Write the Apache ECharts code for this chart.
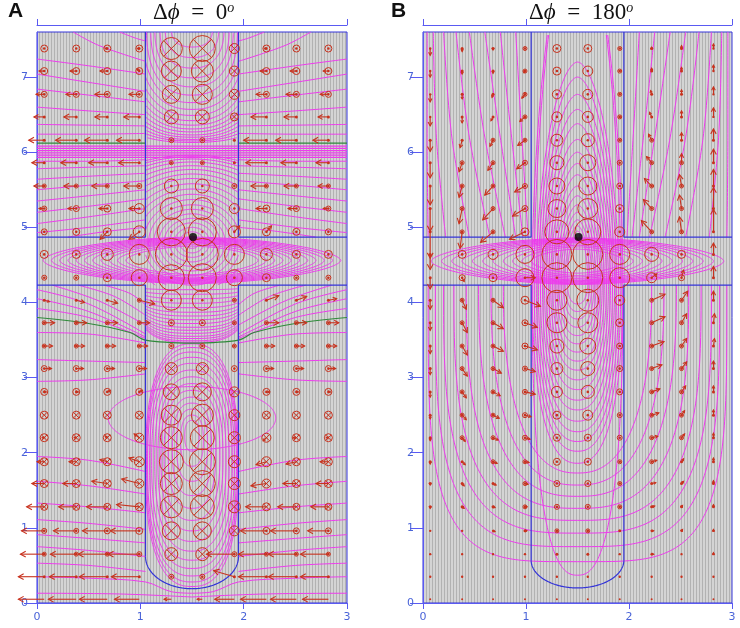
<!DOCTYPE html>
<html>
<head>
<meta charset="utf-8">
<script src="https://cdn.jsdelivr.net/npm/echarts@6/dist/echarts.min.js"></script>
<style>
  html, body { margin: 0; padding: 0; background: #fff; }
  #chart { width: 740px; height: 628px; }
</style>
</head>
<body>
<div id="chart"></div>
<script>
// sample grid (same in both panels)
const cellX = [0.07, 0.38, 0.68, 0.99, 1.3, 1.6, 1.91, 2.22, 2.51, 2.82];
const cellY = [0.05, 0.35, 0.65, 0.96, 1.28, 1.59, 1.88, 2.2, 2.5, 2.81, 3.12, 3.42, 3.73,
  4.03, 4.33, 4.64, 4.94, 5.25, 5.55, 5.86, 6.16, 6.47, 6.77, 7.08, 7.38];
const yTicks = [0, 1, 2, 3, 4, 5, 6, 7];

// field magnitude per cell, bottom row first. >0 out of page, <0 into page
const magA = [
  [0, 0, 0, 0, 0, 0, 0, 0, 0, 0],
  [1.5, 1.5, 1.5, 1.5, 2.5, 2.5, 1.5, 1.5, 1.5, 1.5],
  [2, 2, 2, 2.5, -6.5, -6.5, 2.5, 2, 2, 2],
  [2.5, 2.5, 3, 3.5, -9, -9, -5, 3.5, 3, 3],
  [-3.5, -3.5, -3.5, -4, -11, -12, -6, -4, -3.5, -3.5],
  [-4, -4, -4, -4.5, -11, -13, -6, -4.5, -4, -4],
  [-4, -4, -4, -5, -12, -13, -6, -5, -4, -4],
  [-4, -4, -4, -4.5, -11, -12, -6, -4.5, -4, -4],
  [-4, -4, -4, -4, -10, -11, -5.5, -4, -4, -4],
  [3.5, 3.5, 3.5, 3.5, -8, -9, -5, 3.5, 3.5, 3.5],
  [3, 3, 3, 3, -6, -6, 3, 3, 3, 3],
  [2, 2, 2, 2, 2.5, 2.5, 2, 2, 2, 2],
  [2, 2, 2, 2, 3, 3, 2, 2, 2, 2],
  [1.5, 1.5, 1.5, 2, 10, 10, 2, 1.5, 1.5, 1.5],
  [2.5, 2.5, 4, 8, 13, 14, 8, 4, 2.5, 2.5],
  [4, 4, 6, 10, 16, 16, 10, 6, 4, 4],
  [3, 3.5, 4, 6, 14, 14, 6, 4, 3.5, 3],
  [2.5, 3, 3.5, 5, 11, 11, 5, 3.5, 3, 2.5],
  [2, 2, 2, 2.5, 7, 7, 2.5, 2, 2, 2],
  [1.5, 1.5, 1.5, 1.5, 2, 2, 1.5, 1.5, 1.5, 1.5],
  [1.5, 1.5, 1.5, 1.5, 2.5, 2.5, 1.5, 1.5, 1.5, 1.5],
  [1.5, 1.5, 1.5, 1.5, -7, -7, -4, 1.5, 1.5, 1.5],
  [3, 3, 3, 3, -9, -10, -5, 3, 3, 3],
  [3.5, 3.5, 3.5, 3.5, -10, -11, -5, 3.5, 3.5, 3.5],
  [3.5, 3.5, 3.5, 3.5, -11, -13, -5, 3.5, 3.5, 3.5]
];
const magB = [
  [1, 1, 1, 1, 1, 1, 1, 1, 1, 1],
  [1.2, 1.2, 1.2, 1.2, 1.2, 1.2, 1.2, 1.2, 1.2, 1.2],
  [1.2, 1.2, 1.2, 1.2, 1.5, 1.5, 1.2, 1.2, 1.2, 1.2],
  [1.2, 1.2, 1.2, 1.5, 2, 2, 1.5, 1.2, 1.2, 1.2],
  [1.5, 1.5, 1.5, 2, 2.5, 2.5, 2, 1.5, 1.5, 1.5],
  [1.5, 1.5, 1.5, 2, 3, 3, 2, 1.5, 1.5, 1.5],
  [1.5, 1.5, 2, 2, 3.5, 3.5, 2, 2, 1.5, 1.5],
  [1.5, 2, 2, 2.5, 3.5, 3.5, 2.5, 2, 2, 1.5],
  [1.5, 2, 2, 2.5, 4, 5, 2.5, 2, 2, 1.5],
  [1.5, 2, 2, 2.5, 5.5, 6.5, 3, 2, 2, 1.5],
  [1.5, 2, 2, 2.5, 6, 7, 3, 2, 2, 1.5],
  [1.5, 2, 2, 3, 7, 8, 3, 2, 2, 1.5],
  [1.5, 2, 2, 3, 10, 10, 4, 2, 2, 1.5],
  [1.5, 2, 2, 4, 10, 11, 5, 2, 2, 1.5],
  [1.5, 3, 4, 9, 15, 15, 10, 5, 3, 1.5],
  [1.5, 4, 5, 9, 15, 15, 10, 7, 4, 1.5],
  [1.5, 2, 2, 4, 12, 13, 5, 2, 2, 1.5],
  [1.5, 2, 2, 3, 9, 10, 4, 2, 2, 1.5],
  [1.5, 2, 2, 2.5, 8, 9, 3, 2, 2, 1.5],
  [1.5, 2, 2, 2.5, 7, 8, 2.5, 2, 2, 1.5],
  [1.5, 1.5, 2, 2, 6, 6.5, 2, 2, 1.5, 1.5],
  [1.2, 1.5, 1.5, 2, 5, 5.5, 2, 1.5, 1.5, 1.2],
  [1.2, 1.5, 1.5, 2, 4.5, 5, 2, 1.5, 1.5, 1.2],
  [1.2, 1.5, 1.5, 2, 4, 5, 2, 1.5, 1.5, 1.2],
  [1.2, 1.5, 1.5, 2, 4, 4, 2, 1.5, 1.5, 1.2]
];

// in-plane vectors per cell (x and y parts), bottom row first
const dxA = [
  [-0.25, -0.27, -0.27, -0.24, -0.07, -0.05, -0.19, -0.25, -0.25, -0.25],
  [-0.25, -0.26, -0.27, -0.27, 0, 0, -0.2, -0.27, -0.27, -0.27],
  [-0.23, -0.25, -0.28, -0.3, 0, 0, -0.27, -0.27, -0.27, -0.27],
  [-0.22, -0.22, -0.24, -0.28, 0, 0, 0, -0.25, -0.25, -0.2],
  [-0.17, -0.17, -0.2, -0.22, 0, 0, 0, -0.2, -0.18, -0.17],
  [-0.12, -0.13, -0.15, -0.17, 0, 0, 0, -0.15, -0.13, -0.12],
  [-0.07, -0.07, -0.07, -0.1, 0, 0, 0, -0.1, -0.1, -0.08],
  [-0.02, -0.02, -0.02, -0.05, 0, 0, 0, -0.03, -0.03, -0.02],
  [0, 0, 0, 0, 0, 0, 0, 0, 0, 0],
  [0.02, 0.02, 0.03, 0.03, 0, 0, 0, 0.03, 0.02, 0.02],
  [0.07, 0.07, 0.07, 0.07, 0, 0, 0, 0.07, 0.07, 0.07],
  [0.08, 0.08, 0.08, 0.08, 0, 0, 0, 0.08, 0.08, 0.08],
  [0.1, 0.1, 0.1, 0.1, 0, 0, 0, 0.12, 0.1, 0.1],
  [0.05, 0.08, 0.1, 0.15, 0, 0, 0, 0.12, 0.1, 0.08],
  [0, 0, 0, 0, 0, 0, 0, 0, 0, 0],
  [0, 0, 0, 0, 0, 0, 0, 0, 0, 0],
  [0, 0, -0.07, -0.1, 0, 0, 0.05, 0.05, 0, 0],
  [-0.05, -0.08, -0.08, -0.1, 0, 0, 0, -0.1, -0.08, -0.05],
  [-0.1, -0.12, -0.15, -0.15, 0, 0, 0, -0.15, -0.12, -0.1],
  [-0.12, -0.15, -0.18, -0.2, 0, 0, 0, -0.2, -0.15, -0.12],
  [-0.15, -0.2, -0.22, -0.22, 0, 0, 0, -0.22, -0.2, -0.15],
  [-0.1, -0.12, -0.12, -0.15, 0, 0, 0, -0.15, -0.12, -0.1],
  [-0.08, -0.1, -0.12, -0.1, 0, 0, 0, -0.1, -0.1, -0.08],
  [-0.05, -0.06, -0.07, -0.02, 0, 0, 0, -0.06, -0.06, -0.05],
  [0, 0, -0.02, -0.02, 0, 0, 0, -0.02, 0, 0]
];
const dyA = [
  [0, 0, 0, 0, 0, 0, 0, 0, 0, 0],
  [0, 0, 0, 0, 0, 0, 0.08, 0, 0, 0],
  [0, 0, 0, 0, 0, 0, 0, 0, 0, 0],
  [0, 0, 0, 0, 0, 0, 0, 0, 0, 0],
  [0, 0, 0, 0.03, 0, 0, 0, 0, 0, 0],
  [0, 0, 0.03, 0.06, 0, 0, 0, -0.03, 0, 0],
  [0, 0, 0.03, 0.05, 0, 0, 0, -0.04, -0.03, 0],
  [0, 0, 0.02, 0.05, 0, 0, 0, -0.04, 0, 0],
  [0, 0, 0, 0, 0, 0, 0, 0, 0, 0],
  [0, 0, 0.02, 0.02, 0, 0, 0, 0, 0, 0],
  [0, 0, 0, 0, 0, 0, 0, 0, 0, 0],
  [0, 0, 0, 0, 0, 0, 0, 0, 0, 0],
  [0, 0, 0, 0, 0, 0, 0, 0, 0, 0],
  [-0.02, -0.03, -0.04, -0.05, 0, 0, 0, 0.06, 0.05, 0.02],
  [0, 0, 0, 0, 0, 0, 0, 0, 0, 0],
  [0, 0, 0, 0, 0, 0, 0, 0, 0, 0],
  [0, 0, -0.1, -0.1, 0, 0, 0.08, 0.08, 0, 0],
  [0, 0, 0, 0, 0, 0, 0, 0, 0, 0],
  [0, 0, 0, 0, 0, 0, 0, 0, 0, 0],
  [0, 0, 0, 0, 0, 0, 0, 0, 0, 0],
  [0, 0, 0, 0, 0, 0, 0, 0, 0, 0],
  [0, 0, 0, 0, 0, 0, 0, 0, 0, 0],
  [0, 0, 0, 0, 0, 0, 0, 0, 0, 0],
  [0, 0, 0, 0.03, 0, 0, 0, 0, 0, 0],
  [0, 0, 0, 0, 0, 0, 0, 0, 0, 0]
];
const dxB = [
  [0, 0.01, 0.01, 0.01, 0, 0, 0, 0.01, 0.01, 0],
  [0, 0.01, 0.01, 0.01, 0, 0, 0, 0.01, 0.01, 0],
  [0, 0.01, 0.01, 0.01, 0, 0, 0, 0.02, 0.01, 0],
  [0, 0.01, 0.02, 0.02, 0, 0, 0, 0.02, 0.01, 0],
  [0, 0.02, 0.02, 0.02, 0, 0, 0, 0.03, 0.01, 0],
  [0, 0.02, 0.03, 0.03, 0, 0, 0, 0.04, 0.02, 0],
  [0, 0.03, 0.04, 0.04, 0, 0, 0, 0.05, 0.02, 0],
  [0, 0.03, 0.05, 0.05, 0, 0, 0, 0.06, 0.03, 0],
  [0, 0.04, 0.06, 0.06, 0, 0, 0, 0.07, 0.03, 0],
  [0, 0.04, 0.07, 0.1, 0, 0, 0, 0.08, 0.04, 0],
  [0, 0.05, 0.08, 0.1, 0, 0, 0, 0.1, 0.05, 0],
  [0, 0.05, 0.1, 0.12, 0, 0, 0, 0.12, 0.05, 0.01],
  [0, 0.05, 0.1, 0.12, 0, 0, 0, 0.13, 0.05, 0.01],
  [0, 0.04, 0.1, 0.15, 0, 0, 0, 0.13, 0.06, 0],
  [0, 0.02, 0, 0.1, 0, 0, 0, 0.05, 0.02, 0],
  [0, 0, 0, 0, 0, 0, 0, 0, 0, 0],
  [0, -0.02, -0.12, -0.15, 0, 0, 0, -0.1, -0.02, 0],
  [0, -0.03, -0.1, -0.12, 0, 0, 0, -0.08, -0.02, 0],
  [0, -0.03, -0.08, -0.1, 0, 0, 0, -0.07, -0.02, 0],
  [0, -0.03, -0.05, -0.08, 0, 0, 0, -0.05, 0, 0],
  [0, -0.02, -0.03, -0.07, 0, 0, 0, -0.03, 0, 0],
  [0, 0, -0.02, -0.05, 0, 0, 0, -0.02, 0, 0],
  [0, 0, -0.01, -0.03, 0, 0, 0, -0.01, 0, 0],
  [0, 0, 0, -0.01, 0, 0, 0, 0, 0, 0],
  [0, 0, 0, 0, 0, 0, 0, 0, 0, 0]
];
const dyB = [
  [-0.01, -0.01, 0, 0, 0, 0, 0, 0, 0.01, 0.01],
  [-0.01, -0.01, 0, 0, 0, 0, 0, 0, 0.01, 0.01],
  [-0.01, -0.01, -0.01, 0, 0, 0, 0, 0, 0.01, 0.02],
  [-0.01, -0.01, -0.01, 0, 0, 0, 0, 0, 0.02, 0.02],
  [-0.02, -0.02, -0.01, 0, 0, 0, 0, 0.01, 0.02, 0.03],
  [-0.02, -0.03, -0.02, -0.01, 0, 0, 0, 0.01, 0.03, 0.04],
  [-0.03, -0.04, -0.02, -0.01, 0, 0, 0, 0.02, 0.04, 0.05],
  [-0.04, -0.05, -0.03, -0.02, 0, 0, 0, 0.02, 0.05, 0.06],
  [-0.05, -0.06, -0.04, -0.02, 0, 0, 0, 0.03, 0.06, 0.07],
  [-0.07, -0.08, -0.05, -0.03, 0, 0, 0, 0.04, 0.08, 0.08],
  [-0.08, -0.1, -0.06, -0.04, 0, 0, 0, 0.05, 0.09, 0.1],
  [-0.1, -0.12, -0.07, -0.05, 0, 0, 0, 0.06, 0.1, 0.1],
  [-0.1, -0.13, -0.08, -0.06, 0, 0, 0, 0.08, 0.12, 0.12],
  [-0.12, -0.12, -0.1, -0.08, 0, 0, 0, 0.08, 0.12, 0.12],
  [-0.15, -0.05, 0, 0, 0, 0, 0, 0.05, 0.1, 0.15],
  [-0.2, 0, 0, 0, 0, 0, 0, 0, 0, 0.15],
  [-0.35, -0.22, -0.14, -0.1, 0, 0, 0, 0.15, 0.2, 0.3],
  [-0.3, -0.2, -0.15, -0.1, 0, 0, 0, 0.12, 0.18, 0.28],
  [-0.25, -0.15, -0.12, -0.08, 0, 0, 0, 0.1, 0.15, 0.22],
  [-0.2, -0.12, -0.1, -0.08, 0, 0, 0, 0.08, 0.12, 0.18],
  [-0.15, -0.1, -0.08, -0.07, 0, 0, 0, 0.08, 0.1, 0.15],
  [-0.12, -0.08, -0.05, -0.06, 0, 0, 0, 0.06, 0.08, 0.12],
  [-0.1, -0.06, -0.04, -0.05, 0, 0, 0, 0.05, 0.06, 0.1],
  [-0.08, -0.04, -0.03, -0.02, 0, 0, 0, 0.04, 0.05, 0.08],
  [-0.09, -0.04, -0.02, 0, 0, 0, 0, 0.02, 0.04, 0.06]
];

// structure outline (left half, mirrored about x = 1.5)
const wallA = [[1.05, 7.6], [1.05, 4.87], [0, 4.87]];
const wallA2 = [[0, 4.23], [1.05, 4.23], [1.05, 0.62]];
const wallB = [[1.05, 7.6], [1.05, 4.87], [0, 4.87]];
const wallB2 = [[0, 4.23], [1.05, 4.23], [1.05, 0.57]];
const tipA = [0.62, 0.19];   // [arc start y, arc bottom y]
const tipB = [0.57, 0.2];
const sourcePt = [1.51, 4.87];

// panel A contour families
const capBottomsA = [[7.4, 0.2], [7.26, 0.26], [7.12, 0.31], [6.99, 0.36], [6.87, 0.4], [6.76, 0.44],
  [6.66, 0.48], [6.57, 0.52], [6.49, 0.56], [6.42, 0.6], [6.36, 0.64], [6.31, 0.68], [6.27, 0.73],
  [6.23, 0.78], [6.2, 0.84], [6.17, 0.9], [6.15, 1.0], [6.13, 1.15]];               // [bottom y, half width]
const ringsA = [[0.07, 0.08], [0.12, 0.14], [0.17, 0.2], [0.22, 0.26], [0.27, 0.32], [0.32, 0.38],
  [0.37, 0.44], [0.42, 0.5], [0.47, 0.57], [0.53, 0.64], [0.59, 0.71], [0.65, 0.78], [0.72, 0.85],
  [0.79, 0.91], [0.86, 0.97], [0.94, 1.02], [1.02, 1.07], [1.1, 1.11], [1.2, 1.14], [1.3, 1.16]];
const lensA = [[1.44, 0.31], [1.36, 0.3], [1.28, 0.29], [1.2, 0.28], [1.12, 0.27], [1.04, 0.26],
  [0.96, 0.25], [0.88, 0.24], [0.8, 0.23], [0.72, 0.21], [0.64, 0.19]];            // [half length, half height]
const neckBottomsA = [4.17, 4.11, 4.05, 3.99, 3.93, 3.87, 3.82, 3.77, 3.72, 3.67, 3.63, 3.59, 3.55, 3.52, 3.49, 3.47];
const stemLoopsA = [[3.45, 0.22, 0.45], [3.4, 0.28, 0.44], [3.34, 0.36, 0.43], [3.27, 0.46, 0.41],
  [3.19, 0.57, 0.39], [3.1, 0.69, 0.36], [3.01, 0.82, 0.33], [2.92, 0.96, 0.3], [2.83, 1.1, 0.27],
  [2.74, 1.26, 0.23], [2.66, 1.43, 0.19], [2.58, 1.62, 0.15], [2.5, 1.82, 0.11], [2.43, 2.02, 0.07]]; // [top, bottom, half width]
const lobeA = [2.46, 0.81, 0.42];                                                // [centre y, half width, half height]
const sheetA = [5.93, 5.96, 5.99, 6.02, 6.05, 6.08];
const linesA = [
  [[0.35, 7.6], [0.6, 7.42], [1.05, 7.21]],
  [[0.8, 7.6], [0.95, 7.52], [1.05, 7.48]],
  [[0, 7.24], [0.5, 7.15], [1.05, 7.04]],
  [[0, 7.04], [0.5, 6.93], [1.05, 6.81]],
  [[0, 6.84], [0.5, 6.76], [1.05, 6.67]],
  [[0, 6.6], [0.5, 6.55], [1.05, 6.5]],
  [[0, 6.37], [0.5, 6.36], [1.05, 6.35]],
  [[0, 6.24], [0.5, 6.24], [1.05, 6.25]],
  [[0, 5.88], [0.5, 5.88], [1.05, 5.9]],
  [[0, 5.78], [0.5, 5.8], [1.05, 5.82]],
  [[0, 5.64], [0.5, 5.68], [1.05, 5.72]],
  [[0, 5.5], [0.5, 5.56], [1.05, 5.62]],
  [[0, 5.35], [0.5, 5.42], [1.05, 5.5]],
  [[0, 5.2], [0.5, 5.28], [1.05, 5.38]],
  [[0, 5.05], [0.5, 5.14], [1.05, 5.25]],
  [[0, 4.93], [0.5, 5.0], [1.05, 5.1]],
  [[0.3, 4.87], [0.7, 4.95], [1.05, 5.0]],
  [[0, 4.17], [0.5, 3.98], [1.05, 3.58]],
  [[0.15, 4.23], [0.6, 4.02], [1.05, 3.7]],
  [[0.4, 4.23], [0.75, 4.08], [1.05, 3.83]],
  [[0.65, 4.23], [0.9, 4.12], [1.05, 3.97]],
  [[0, 4.05], [0.5, 3.88], [1.05, 3.54]],
  [[0, 3.92], [0.5, 3.8], [1.05, 3.52]],
  [[0, 3.6], [0.5, 3.58], [1.05, 3.46]],
  [[0, 3.24], [0.5, 3.22], [1.05, 3.2]],
  [[0, 2.95], [0.5, 2.97], [1.05, 3.05]],
  [[0, 1.95], [0.5, 1.9], [1.05, 1.75]],
  [[0, 1.62], [0.5, 1.56], [1.05, 1.45]],
  [[0, 1.33], [0.5, 1.28], [1.05, 1.2]],
  [[0, 1.11], [0.5, 1.06], [1.05, 0.98]],
  [[0, 0.91], [0.5, 0.86], [1.05, 0.8]],
  [[0, 0.75], [0.5, 0.7], [1.05, 0.62]],
  [[0, 0.53], [0.5, 0.5], [1.05, 0.42]],
  [[0, 0.35], [0.5, 0.33], [1.05, 0.28], [1.3, 0.15], [1.5, 0.13]],
  [[0, 0.13], [0.8, 0.12], [1.5, 0.08]]
];
const greenA = [
  [[0, 6.12], [1.05, 6.12]],
  [[0, 3.8], [0.5, 3.72], [0.9, 3.6], [1.05, 3.5], [1.5, 3.46]]
];

// panel B contour families
const lensB = [[1.42, 0.31], [1.32, 0.3], [1.22, 0.29], [1.12, 0.28], [1.02, 0.27], [0.92, 0.26],
  [0.82, 0.25], [0.72, 0.23], [0.63, 0.21], [0.54, 0.19], [0.45, 0.16]];
const bowlsB = [[0.37, 0.44, 2.5], [0.55, 1.45, 4], [0.75, 1.38, 3.5], [0.93, 1.3, 3.2], [1.1, 1.2, 3],
  [1.26, 1.08, 2.8], [1.42, 0.96, 2.6], [1.57, 0.84, 2.5], [1.73, 0.72, 2.4]];     // [bottom y, half width, squareness]
const dropsB = [[1.86, 9, 0.44], [2.02, 9, 0.42], [2.15, 7.2, 0.4], [2.28, 7.0, 0.38], [2.42, 6.77, 0.36],
  [2.57, 6.57, 0.34], [2.7, 6.38, 0.32], [2.84, 6.17, 0.3], [2.97, 6.0, 0.28], [3.1, 5.85, 0.26],
  [3.22, 5.7, 0.24], [3.34, 5.55, 0.22], [3.45, 5.42, 0.2], [3.56, 5.3, 0.18], [3.67, 5.2, 0.16],
  [3.78, 5.1, 0.14], [3.88, 5.02, 0.12], [3.98, 4.95, 0.1]];                      // [bottom, top, half width]
const linesB = [
  [[0.04, 7.6], [0.04, 6.2], [0.05, 4.87]],
  [[0.1, 7.6], [0.13, 6.2], [0.22, 4.87]],
  [[0.2, 7.6], [0.28, 6.2], [0.45, 4.87]],
  [[0.32, 7.6], [0.45, 6.2], [0.65, 4.87]],
  [[0.45, 7.6], [0.6, 6.2], [0.8, 4.87]],
  [[0.6, 7.6], [0.75, 6.2], [0.9, 4.87]],
  [[0.75, 7.6], [0.86, 6.2], [0.97, 4.87]],
  [[0.9, 7.6], [0.96, 6.2], [1.02, 4.87]]
];

const MAG = '#ee3aee';
const RED = '#c8321e';
const BLUE = '#3434d8';
const AXIS = '#5a5af2';

// fine vertical hatching of the model background
function hatch() {
  const c = document.createElement('canvas');
  c.width = 3; c.height = 4;
  const g = c.getContext('2d');
  g.fillStyle = '#d4d4d4'; g.fillRect(0, 0, 3, 4);
  g.fillStyle = '#b2b2b2'; g.fillRect(0, 0, 1, 4);
  return { image: c, repeat: 'repeat' };
}

function mirror(pts) {
  return pts.map(p => [3 - p[0], p[1]]).reverse();
}

// loops: [cx, cy, a, bDown, bUp, nDown, nUp, clip rect]
function buildLoopsA() {
  const L = [];
  const top = [1.05, 1.95, 6.12, 7.6];
  capBottomsA.forEach(c => L.push([1.5, 7.65, c[1], 7.65 - c[0], 0.01, 2.4, 2, top]));
  ringsA.forEach(r => L.push([1.5, 4.8, r[0], r[1], r[1], 2, 2, [1.05, 1.95, 4.23, 6.0]]));
  lensA.forEach(r => L.push([1.5, 4.56, r[0], r[1], r[1], 1.7, 1.7, [0, 3, 4.23, 4.87]]));
  neckBottomsA.forEach(b => L.push([1.5, 4.23, 0.55, 4.23 - b, 0.01, 3, 3, [1.05, 1.95, 3.45, 4.23]]));
  stemLoopsA.forEach(s => {
    const cy = (s[0] + s[1]) / 2;
    L.push([1.5, cy, s[2], cy - s[1], s[0] - cy, 2.5, 2.5, [1.05, 1.95, 0, 3.47]]);
  });
  L.push([1.5, lobeA[0], lobeA[1], lobeA[2], lobeA[2], 2, 2, [0, 3, 0, 3.47]]);
  return L;
}
function buildLoopsB() {
  const L = [];
  lensB.forEach(r => L.push([1.5, 4.55, r[0], r[1], r[1], 1.7, 1.7, [0, 3, 4.23, 4.87]]));
  bowlsB.forEach(b => L.push([1.5, 4.23, b[1], 4.23 - b[0], 0.01, b[2], b[2],
    b[1] < 0.45 ? [1.05, 1.95, 0, 4.23] : [0, 3, 0, 4.23]]));
  dropsB.forEach(d => L.push([1.5, 4.3, d[2], 4.3 - d[0], d[1] - 4.3, 2.4, 1.8, [1.05, 1.95, 0, 7.6]]));
  return L;
}

function loopSeries(gi, loops, color, width) {
  return {
    type: 'custom', xAxisIndex: gi * 2, yAxisIndex: gi, silent: true, z: 2,
    data: loops.map((l, i) => [l[0], l[1], i]),
    renderItem: function (params, api) {
      const l = loops[api.value(2)];
      const [cx, cy, a, bd, bu, nd, nu, r] = l;
      const runs = [];
      let cur = [];
      for (let k = 0; k <= 360; k++) {
        const t = k / 360 * Math.PI * 2;
        const c = Math.cos(t), s = Math.sin(t);
        const n = s < 0 ? nd : nu;
        const x = cx + a * Math.sign(c) * Math.pow(Math.abs(c), 2 / n);
        const y = cy + (s < 0 ? bd : bu) * Math.sign(s) * Math.pow(Math.abs(s), 2 / n);
        if (x >= r[0] - 1e-6 && x <= r[1] + 1e-6 && y >= r[2] - 1e-6 && y <= r[3] + 1e-6) {
          cur.push(api.coord([x, y]));
        } else {
          if (cur.length > 1) runs.push(cur);
          cur = [];
        }
      }
      if (cur.length > 1) runs.push(cur);
      return {
        type: 'group',
        children: runs.map(p => ({
          type: 'polyline', shape: { points: p },
          style: { stroke: color, lineWidth: width, fill: null }
        }))
      };
    }
  };
}

function lineSeries(gi, pts, color, width, z) {
  return {
    type: 'line', xAxisIndex: gi * 2, yAxisIndex: gi, data: pts, smooth: 0.35,
    showSymbol: false, silent: true, z: z || 2, clip: true,
    lineStyle: { color: color, width: width || 1 }
  };
}

function cellSeries(gi, mag, dx, dy) {
  const data = [];
  for (let j = 0; j < cellY.length; j++) {
    for (let i = 0; i < cellX.length; i++) {
      data.push([cellX[i], cellY[j], mag[j][i], dx[j][i], dy[j][i]]);
    }
  }
  return {
    type: 'custom', xAxisIndex: gi * 2, yAxisIndex: gi, silent: true, z: 5,
    data: data,
    renderItem: function (params, api) {
      const x = api.value(0), y = api.value(1), m = api.value(2);
      const vx = api.value(3), vy = api.value(4);
      const p = api.coord([x, y]);
      const kids = [];
      const r = Math.abs(m);
      if (m !== 0) {
        if (r <= 1.6) {
          kids.push({ type: 'circle', shape: { cx: p[0], cy: p[1], r: r }, style: { fill: RED } });
        } else {
          kids.push({ type: 'circle', shape: { cx: p[0], cy: p[1], r: r }, style: { fill: null, stroke: RED, lineWidth: 1 } });
          if (m < 0) {
            const d = r * 0.7;
            kids.push({ type: 'line', shape: { x1: p[0] - d, y1: p[1] - d, x2: p[0] + d, y2: p[1] + d }, style: { stroke: RED, lineWidth: 1 } });
            kids.push({ type: 'line', shape: { x1: p[0] - d, y1: p[1] + d, x2: p[0] + d, y2: p[1] - d }, style: { stroke: RED, lineWidth: 1 } });
          } else {
            kids.push({ type: 'circle', shape: { cx: p[0], cy: p[1], r: 1.3 }, style: { fill: RED } });
          }
        }
      }
      if (vx !== 0 || vy !== 0) {
        const q = api.coord([x + vx, y + vy]);
        const ddx = q[0] - p[0], ddy = q[1] - p[1];
        const len = Math.sqrt(ddx * ddx + ddy * ddy);
        if (len > 1.5) {
          kids.push({ type: 'line', shape: { x1: p[0], y1: p[1], x2: q[0], y2: q[1] }, style: { stroke: RED, lineWidth: 1.1 } });
          const h = Math.min(6, Math.max(2.5, len * 0.5));
          const ang = Math.atan2(ddy, ddx);
          const a1 = ang + Math.PI - 0.5, a2 = ang + Math.PI + 0.5;
          kids.push({
            type: 'polyline',
            shape: { points: [[q[0] + h * Math.cos(a1), q[1] + h * Math.sin(a1)], q, [q[0] + h * Math.cos(a2), q[1] + h * Math.sin(a2)]] },
            style: { stroke: RED, lineWidth: 1.1, fill: null }
          });
        }
      }
      return { type: 'group', children: kids };
    }
  };
}

function outlineSeries(gi, walls, tip) {
  const s = [];
  walls.forEach(w => {
    s.push(lineSeries(gi, w, BLUE, 1.2, 4));
    s.push(lineSeries(gi, mirror(w), BLUE, 1.2, 4));
  });
  s.forEach(x => { x.smooth = false; });
  const arc = loopSeries(gi, [[1.5, tip[0], 0.45, tip[0] - tip[1], 0.01, 2, 2, [1.04, 1.96, 0, tip[0]]]], BLUE, 1.2);
  arc.z = 4;
  s.push(arc);
  s.push({
    type: 'scatter', xAxisIndex: gi * 2, yAxisIndex: gi, data: [sourcePt], symbolSize: 8,
    itemStyle: { color: '#000' }, z: 8, silent: true
  });
  return s;
}

function axesFor(gi) {
  const lab = { color: '#4a64d8', fontSize: 11, fontFamily: 'DejaVu Sans' };
  return {
    x: [
      { gridIndex: gi, type: 'value', min: 0, max: 3, interval: 1, offset: 5,
        axisLine: { lineStyle: { color: AXIS } }, axisTick: { length: 6, lineStyle: { color: AXIS } },
        axisLabel: Object.assign({ margin: 4 }, lab), splitLine: { show: false } },
      { gridIndex: gi, type: 'value', position: 'top', min: 0, max: 3, interval: 1, offset: 7,
        axisLine: { lineStyle: { color: AXIS } }, axisTick: { length: 6, lineStyle: { color: AXIS } },
        axisLabel: { show: false }, splitLine: { show: false } }
    ],
    y: { gridIndex: gi, type: 'value', min: 0, max: 7.6, interval: 1, offset: 5,
      axisLine: { lineStyle: { color: AXIS } },
      axisTick: { length: 13, lineStyle: { color: AXIS }, customValues: yTicks },
      axisLabel: Object.assign({ margin: 4, customValues: yTicks }, lab), splitLine: { show: false } }
  };
}

const chart = echarts.init(document.getElementById('chart'));
const axA = axesFor(0), axB = axesFor(1);
const series = [];

// panel A
series.push(loopSeries(0, buildLoopsA(), MAG, 1));
sheetA.forEach(y => series.push(lineSeries(0, [[0, y], [3, y]], MAG, 1.2)));
linesA.forEach(l => {
  series.push(lineSeries(0, l, MAG, 1));
  series.push(lineSeries(0, mirror(l), MAG, 1));
});
greenA.forEach(l => {
  series.push(lineSeries(0, l, '#2f8a3a', 1.2, 3));
  series.push(lineSeries(0, mirror(l), '#2f8a3a', 1.2, 3));
});
outlineSeries(0, [wallA, wallA2], tipA).forEach(s => series.push(s));
series.push(cellSeries(0, magA, dxA, dyA));

// panel B
series.push(loopSeries(1, buildLoopsB(), MAG, 1));
linesB.forEach(l => {
  series.push(lineSeries(1, l, MAG, 1));
  series.push(lineSeries(1, mirror(l), MAG, 1));
});
outlineSeries(1, [wallB, wallB2], tipB).forEach(s => series.push(s));
series.push(cellSeries(1, magB, dxB, dyB));

const titleFont = 'Liberation Serif';
function titleText(left, val) {
  return {
    type: 'text', left: left, top: 1,
    style: {
      text: '{a|\u0394}{b|\u03d5}{a|  =  ' + val + '}{s|o}',
      rich: {
        a: { fontFamily: titleFont, fontSize: 23, fill: '#111' },
        b: { fontFamily: titleFont, fontSize: 23, fontStyle: 'italic', fill: '#111' },
        s: { fontFamily: titleFont, fontSize: 14, fontStyle: 'italic', fill: '#111', verticalAlign: 'top', padding: [0, 0, 9, 0] }
      }
    }
  };
}

chart.setOption({
  animation: false,
  backgroundColor: '#fff',
  grid: [
    { left: 37, top: 32, width: 310, height: 571, show: true, backgroundColor: hatch(), borderColor: BLUE, borderWidth: 1 },
    { left: 423, top: 32, width: 309, height: 571, show: true, backgroundColor: hatch(), borderColor: BLUE, borderWidth: 1 }
  ],
  xAxis: [axA.x[0], axA.x[1], axB.x[0], axB.x[1]],
  yAxis: [axA.y, axB.y],
  graphic: [
    { type: 'text', left: 8, top: 1, style: { text: 'A', fontFamily: 'Liberation Sans', fontWeight: 'bold', fontSize: 21, fill: '#111' } },
    { type: 'text', left: 391, top: 1, style: { text: 'B', fontFamily: 'Liberation Sans', fontWeight: 'bold', fontSize: 21, fill: '#111' } },
    titleText(153, '0'),
    titleText(529, '180')
  ],
  series: series
});
</script>
</body>
</html>
